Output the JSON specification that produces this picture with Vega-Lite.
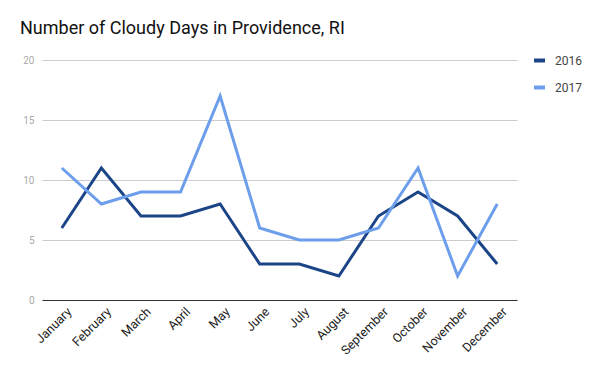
{
  "$schema": "https://vega.github.io/schema/vega-lite/v6.json",
  "width": 475,
  "height": 240,
  "autosize": {"type": "none"},
  "padding": {"left": 42, "top": 60, "right": 83, "bottom": 71},
  "background": "white",
  "title": {
    "text": "Number of Cloudy Days in Providence, RI",
    "anchor": "start",
    "frame": "group",
    "dx": -22,
    "offset": 15,
    "font": "Roboto",
    "fontSize": 18,
    "fontWeight": "normal",
    "color": "#111111"
  },
  "data": {
    "values": [
      {"month": "January", "year": "2016", "days": 6},
      {"month": "February", "year": "2016", "days": 11},
      {"month": "March", "year": "2016", "days": 7},
      {"month": "April", "year": "2016", "days": 7},
      {"month": "May", "year": "2016", "days": 8},
      {"month": "June", "year": "2016", "days": 3},
      {"month": "July", "year": "2016", "days": 3},
      {"month": "August", "year": "2016", "days": 2},
      {"month": "September", "year": "2016", "days": 7},
      {"month": "October", "year": "2016", "days": 9},
      {"month": "November", "year": "2016", "days": 7},
      {"month": "December", "year": "2016", "days": 3},
      {"month": "January", "year": "2017", "days": 11},
      {"month": "February", "year": "2017", "days": 8},
      {"month": "March", "year": "2017", "days": 9},
      {"month": "April", "year": "2017", "days": 9},
      {"month": "May", "year": "2017", "days": 17},
      {"month": "June", "year": "2017", "days": 6},
      {"month": "July", "year": "2017", "days": 5},
      {"month": "August", "year": "2017", "days": 5},
      {"month": "September", "year": "2017", "days": 6},
      {"month": "October", "year": "2017", "days": 11},
      {"month": "November", "year": "2017", "days": 2},
      {"month": "December", "year": "2017", "days": 8}
    ]
  },
  "mark": {"type": "line", "strokeWidth": 3},
  "encoding": {
    "x": {
      "field": "month",
      "type": "ordinal",
      "sort": null,
      "scale": {"type": "point", "padding": 0.5},
      "axis": {
        "title": null,
        "labelAngle": -45,
        "labelFont": "Roboto",
        "labelFontSize": 12.5,
        "labelColor": "#222222",
        "ticks": false,
        "domain": true,
        "domainColor": "#333333",
        "domainWidth": 1.2,
        "labelPadding": 5,
        "labelOffset": 3,
        "grid": false
      }
    },
    "y": {
      "field": "days",
      "type": "quantitative",
      "scale": {"domain": [0, 20]},
      "axis": {
        "title": null,
        "values": [0, 5, 10, 15, 20],
        "labelFont": "Roboto",
        "labelFontSize": 10,
        "labelColor": "#aaaaaa",
        "ticks": false,
        "domain": false,
        "gridColor": "#cccccc",
        "labelPadding": 8
      }
    },
    "color": {
      "field": "year",
      "type": "nominal",
      "scale": {"domain": ["2016", "2017"], "range": ["#1c4587", "#6d9eeb"]},
      "legend": {
        "title": null,
        "orient": "none",
        "legendX": 490,
        "legendY": -7,
        "symbolType": "stroke",
        "symbolStrokeWidth": 4,
        "symbolSize": 120,
        "labelFont": "Roboto",
        "labelFontSize": 12,
        "labelColor": "#444444",
        "rowPadding": 10,
        "labelOffset": 8
      }
    }
  },
  "config": {"view": {"stroke": null}}
}
